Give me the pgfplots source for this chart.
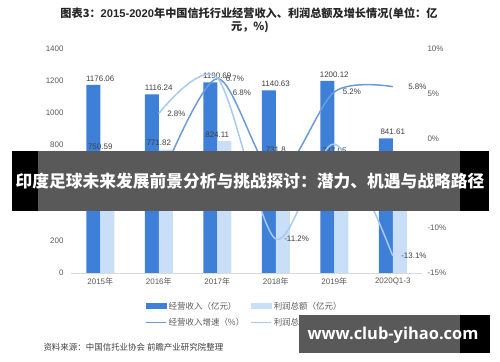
\documentclass[border=0pt]{standalone}
\usepackage{pgfplots}
\pgfplotsset{compat=1.18}
\usepackage{fontspec}
\setmainfont{Noto Sans CJK SC}
\newfontfamily\num{Liberation Sans}
\newfontfamily\urlfont{Open Sans}
\definecolor{c1}{RGB}{62,127,216}
\definecolor{c2}{RGB}{201,223,247}
\definecolor{l1}{RGB}{108,156,214}
\definecolor{l2}{RGB}{168,202,238}
\definecolor{axisgray}{RGB}{217,217,217}
\definecolor{tickgray}{RGB}{89,89,89}
\definecolor{labgray}{RGB}{64,64,64}
\begin{document}
\begin{tikzpicture}
\path[use as bounding box] (0,0) rectangle (500bp,362bp);
\fill[white] (0,0) rectangle (500bp,362bp);
% title
\node[font=\bfseries\fontsize{11.2}{12}\selectfont, text=black!85] at (249bp,348bp) {图表3：{\num 2015-2020}年中国信托行业经营收入、利润总额及增长情况(单位：亿};
\node[font=\bfseries\fontsize{11.2}{12}\selectfont, text=black!85] at (250bp,335bp) {元，\%)};
\begin{axis}[
  at={(71bp,89bp)}, anchor=south west,
  scale only axis, width=351bp, height=224bp,
  xmin=-0.5, xmax=5.5, ymin=0, ymax=1400,
  xtick={0,...,5},
  xticklabels={{\num 2015}年,{\num 2016}年,{\num 2017}年,{\num 2018}年,{\num 2019}年,{\num 2020Q1-3}},
  ytick={0,200,...,1400},
  axis x line*=bottom, axis y line*=left,
  x axis line style={draw=axisgray, line width=0.8bp},
  y axis line style={draw=none},
  major tick style={draw=none},
  xticklabel style={font=\fontsize{8}{9}\selectfont, text=tickgray, yshift=-1bp},
  yticklabel style={font=\num\fontsize{8}{9}\selectfont, text=tickgray, xshift=-4bp},
  /pgf/number format/assume math mode=true,
  /pgf/number format/1000 sep={},
  clip=false,
]
\addplot[ybar, bar width=14bp, bar shift=-7bp, fill=c1, draw=none,
  point meta=explicit symbolic, nodes near coords,
  nodes near coords style={anchor=south, font=\num\fontsize{8}{9}\selectfont, text=labgray}]
  coordinates {(0,1176.06)[1176.06] (1,1116.24)[1116.24] (2,1190.69)[1190.69] (3,1140.63)[1140.63] (4,1200.12)[1200.12] (5,841.61)[841.61]};
\addplot[ybar, bar width=14bp, bar shift=7bp, fill=c2, draw=none,
  point meta=explicit symbolic, nodes near coords,
  nodes near coords style={anchor=south, font=\num\fontsize{8}{9}\selectfont, text=labgray}]
  coordinates {(0,750.59)[750.59] (1,771.82)[771.82] (2,824.11)[824.11] (3,731.8)[731.8] (4,727.05)[727.05] (5,494)[]};
\end{axis}
\begin{axis}[
  at={(71bp,89bp)}, anchor=south west,
  scale only axis, width=351bp, height=224bp,
  xmin=-0.5, xmax=5.5, ymin=-15, ymax=10,
  ytick={-15,-10,...,10},
  yticklabels={-15\%,-10\%,-5\%,0\%,5\%,10\%},
  axis y line*=right, axis x line=none,
  y axis line style={draw=none},
  major tick style={draw=none},
  yticklabel style={font=\num\fontsize{8}{9}\selectfont, text=tickgray, xshift=2bp},
  clip=false,
  legend columns=2,
  legend cell align=left,
  legend style={at={(0.505,-0.11)}, anchor=north, draw=none, fill=none,
    font=\fontsize{8.5}{10}\selectfont, text=tickgray,
    /tikz/every even column/.append style={column sep=4bp},
    /tikz/row sep=3.5bp},
]
\addlegendimage{legend image code/.code={\fill[c1] (0bp,-2.5bp) rectangle (20bp,2.5bp);}}
\addlegendentry{经营收入（亿元）}
\addlegendimage{legend image code/.code={\fill[c2] (0bp,-2.5bp) rectangle (20bp,2.5bp);}}
\addlegendentry{利润总额（亿元）}
\addplot[smooth, l1, line width=1.5bp, mark=none,
  legend image code/.code={\draw[l1, line width=1.5bp] (0bp,0bp) -- (20bp,0bp);}]
  coordinates {(1,-5.1) (2,6.7) (3,-4.2) (4,5.2) (5,5.8)};
\addlegendentry{经营收入增速（\%）}
\addplot[smooth, l2, line width=1.5bp, mark=none,
  legend image code/.code={\draw[l2, line width=1.5bp] (0bp,0bp) -- (20bp,0bp);}]
  coordinates {(1,2.8) (2,6.8) (3,-11.2) (4,-0.6) (5,-13.1)};
\addlegendentry{利润总额增速（\%）}
% labels
\addplot[forget plot, draw=none, mark=none, point meta=explicit symbolic, nodes near coords,
  nodes near coords style={anchor=west, xshift=5bp, font=\num\fontsize{8}{9}\selectfont, text=labgray}]
  coordinates {(1,2.8)[2.8\%] (2,6.7)[6.7\%] (3,-11.2)[-11.2\%] (3,-4.2)[-4.2\%] (4,5.2)[5.2\%] (5,-13.1)[-13.1\%]};
\addplot[forget plot, draw=none, mark=none, point meta=explicit symbolic, nodes near coords,
  nodes near coords style={anchor=west, xshift=12bp, font=\num\fontsize{8}{9}\selectfont, text=labgray}]
  coordinates {(5,5.8)[5.8\%]};
\addplot[forget plot, draw=none, mark=none, point meta=explicit symbolic, nodes near coords,
  nodes near coords style={anchor=west, xshift=12bp, yshift=-15bp, font=\num\fontsize{8}{9}\selectfont, text=labgray}]
  coordinates {(2,6.8)[6.8\%] (4,-0.6)[-0.6\%]};
\end{axis}
% source
\node[anchor=west, font=\fontsize{8.5}{10}\selectfont, text=labgray] at (40bp,15bp) {资料来源：中国信托业协会 前瞻产业研究院整理};
\node[anchor=west, font=\fontsize{7.5}{9}\selectfont, text=tickgray] at (380bp,15bp) {@前瞻经济学人APP};
% overlay banner
\fill[black] (12bp,151bp) rectangle (489bp,211bp);
\fill[white, opacity=0.35] (38bp,151bp) rectangle (460bp,211bp);
\node[font=\bfseries\fontsize{16.8}{18}\selectfont, text=white] at (250bp,181bp) {印度足球未来发展前景分析与挑战探讨：潜力、机遇与战略路径};
% overlay url box
\fill[black] (299bp,9bp) rectangle (490bp,47bp);
\fill[white, opacity=0.35] (299bp,9bp) rectangle (460bp,47bp);
\node[font=\urlfont\bfseries\fontsize{16.5}{18}\selectfont, text=white] at (393bp,27bp) {www.club-yihao.com};
\end{tikzpicture}
\end{document}
